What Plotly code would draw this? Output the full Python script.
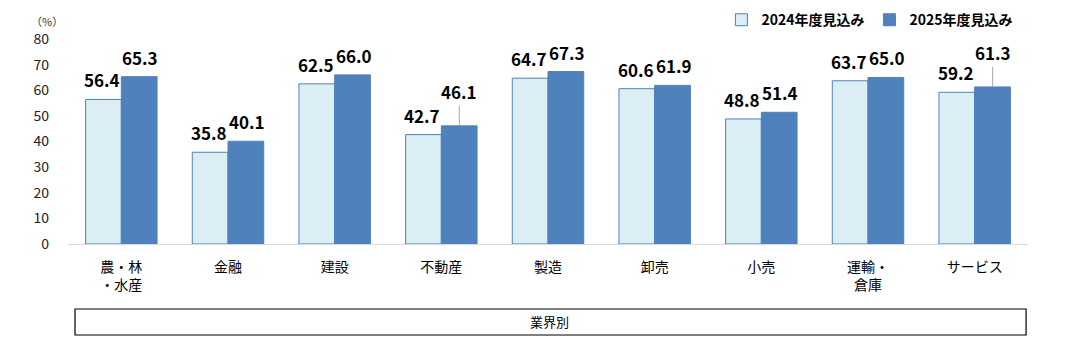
import plotly.graph_objects as go

categories = ["農・林<br>・水産", "金融", "建設", "不動産", "製造", "卸売", "小売", "運輸・<br>倉庫", "サービス"]
v2024 = [56.4, 35.8, 62.5, 42.7, 64.7, 60.6, 48.8, 63.7, 59.2]
v2025 = [65.3, 40.1, 66.0, 46.1, 67.3, 61.9, 51.4, 65.0, 61.3]
lifted_2025 = {3: 30, 8: 30}  # indices with leader line (pixel lift)

FONT = "Noto Sans CJK JP"
light = "#DAEEF3"
dark = "#4F81BD"

fig = go.Figure()
fig.add_trace(go.Bar(x=categories, y=v2024, name="2024年度見込み",
                     marker=dict(color=light, line=dict(color=dark, width=1))))
fig.add_trace(go.Bar(x=categories, y=v2025, name="2025年度見込み",
                     marker=dict(color=dark, line=dict(color=dark, width=1))))

ann = []
for i, c in enumerate(categories):
    ann.append(dict(x=c, y=v2024[i], xref="x", yref="y", text=f"<b>{v2024[i]:.1f}</b>",
                    showarrow=False, xshift=-19, yshift=5, yanchor="bottom",
                    font=dict(family=FONT, size=17, color="black")))
    if i in lifted_2025:
        ann.append(dict(x=c, y=v2025[i], xref="x", yref="y", text=f"<b>{v2025[i]:.1f}</b>",
                        showarrow=True, arrowhead=0, arrowwidth=1, arrowcolor="#A6A6A6",
                        ax=0, ay=-lifted_2025[i] - 4,
                        xshift=18, standoff=0, startstandoff=0,
                        font=dict(family=FONT, size=17, color="black")))
    else:
        ann.append(dict(x=c, y=v2025[i], xref="x", yref="y", text=f"<b>{v2025[i]:.1f}</b>",
                        showarrow=False, xshift=19, yshift=5, yanchor="bottom",
                        font=dict(family=FONT, size=17, color="black")))

ann.append(dict(x=-0.022, y=1.09, xref="paper", yref="paper", text="（%）", showarrow=False,
                xanchor="center", yanchor="middle", font=dict(family=FONT, size=11, color="#333")))
ann.append(dict(x=0.502, y=-0.38, xref="paper", yref="paper", text="業界別", showarrow=False,
                xanchor="center", yanchor="middle", font=dict(family=FONT, size=13, color="black")))

fig.update_layout(
    width=1065, height=357,
    margin=dict(l=60, r=45, t=31, b=121, autoexpand=False),
    paper_bgcolor="white", plot_bgcolor="white",
    barmode="group", bargap=0.33, bargroupgap=0,
    font=dict(family=FONT, size=14, color="black"),
    showlegend=True,
    legend=dict(orientation="h", x=0.99, xanchor="right", y=1.17, yanchor="top",
                font=dict(family=FONT, size=14, color="black", weight="bold"), traceorder="normal",
                itemwidth=30),
    annotations=ann,
    shapes=[dict(type="rect", xref="paper", yref="paper", x0=0.0073, x1=0.998, y0=-0.444, y1=-0.317,
                 line=dict(color="black", width=1.2), fillcolor="rgba(0,0,0,0)")],
    xaxis=dict(showline=True, linecolor="#D9D9D9", linewidth=1, ticks="", showgrid=False,
               tickfont=dict(family=FONT, size=14, color="black"), ticklabelstandoff=10),
    yaxis=dict(range=[0, 80], dtick=10, showgrid=False, zeroline=False, showline=False,
               ticks="", tickfont=dict(family=FONT, size=14, color="#222"), ticklabelstandoff=18),
)
fig.write_html("out.html")
